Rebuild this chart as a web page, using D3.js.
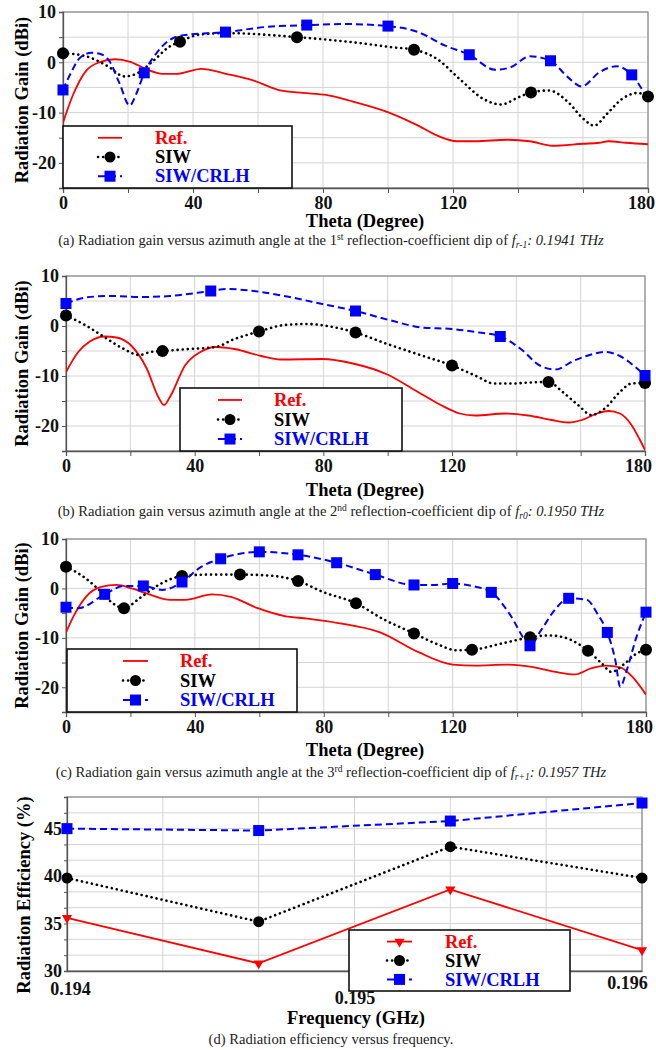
<!DOCTYPE html>
<html>
<head>
<meta charset="utf-8">
<script src="https://cdn.jsdelivr.net/npm/d3@7"></script>
<style>
body { margin: 0; background: #fff; }
svg { display: block; }
</style>
</head>
<body>
<svg width="656" height="1050"></svg>
<script>
const seriesNames = ["Ref.", "SIW", "SIW/CRLH"];
const thetaTicks = [0, 40, 80, 120, 180];
const gainTicks = [10, 0, -10, -20];

// (a) fr-1
const refA = [[0,-12],[3,-6.6],[7.1,-1.7],[11.2,0],[16,0.6],[20.7,0.1],[25.4,-1.3],[30.7,-2.3],[34.9,-2.3],[42.6,-1.3],[50.2,-2.3],[58.5,-3.6],[66.8,-5.6],[73.9,-6.1],[81,-6.5],[88,-7.6],[99.9,-9.9],[109.3,-12.6],[115.2,-14.6],[121.2,-15.7],[127,-15.7],[136.5,-15.4],[143.6,-15.7],[150.7,-16.6],[160,-16.2],[165,-16],[167.8,-15.7],[173.2,-16],[180,-16.3]];
const siwA = [[0,1.8],[6.5,1.3],[13.6,-0.7],[18.9,-2.8],[22.5,-2.3],[27.8,0.3],[32.5,3],[36,4.1],[42,5.5],[50.2,5.8],[72,5],[91.6,3.8],[101,3],[108,2.5],[115,0.7],[122,-3.3],[129.4,-7.3],[134.8,-8.4],[140,-7],[144,-6],[149.5,-5.6],[155.4,-7.9],[160.2,-11.3],[163.5,-12.6],[167.3,-10.3],[172,-7.3],[176.8,-6.1],[180,-6.8]];
const siwMarkA = [[0,1.8],[36,4.1],[72,5],[108,2.5],[144,-6],[180,-6.8]];
const crlhA = [[0,-5.5],[2.6,-1.9],[5.1,0.8],[8.7,1.9],[11.3,1.7],[14.4,0.1],[17.4,-4.2],[20.5,-8.6],[22.6,-6.2],[25,-2.1],[29,2],[32.5,4.3],[37.2,5.4],[50,6],[62,7],[75,7.4],[86.9,7.6],[100,7.2],[109.3,6],[117.6,3.3],[125,1.5],[133,-1.5],[137.7,-1],[143.6,1.2],[150,0.3],[155.4,-3],[159.6,-4.8],[165,-2],[170.3,-0.8],[175,-2.5],[180,-7.5]];
const crlhMarkA = [[0,-5.5],[25,-2.1],[50,6],[75,7.4],[100,7.2],[125,1.5],[150,0.3],[175,-2.5]];

// (b) fr0
const refB = [[0,-9.2],[3.8,-5.2],[7.4,-3.1],[12.1,-2.1],[15.7,-2.3],[20.4,-4],[25.1,-8.5],[28.7,-14.2],[30.5,-15.8],[32.3,-14.2],[37,-7.9],[41.8,-5.2],[46.5,-4.2],[52.4,-4.6],[60.7,-6],[66.7,-6.7],[79.7,-6.6],[89.2,-7.5],[99.9,-9.7],[109.4,-13.2],[116.5,-15.8],[122.4,-17.5],[127.2,-17.9],[136.7,-17.5],[143.8,-17.9],[150.9,-18.8],[156.2,-19.3],[160.4,-18.8],[165.1,-17.5],[168.7,-17],[172.2,-17.5],[175.8,-19.8],[178.2,-22.5],[180,-24.8]];
const siwB = [[0,2.1],[6.2,0.1],[12.1,-2.3],[18,-4.6],[22.8,-5.8],[26.3,-5.2],[30,-5],[38.2,-4.6],[46.5,-4.2],[52.4,-2.6],[60,-1.1],[67.9,0.2],[75,0.4],[82.1,-0.1],[90,-1.3],[99.9,-3.6],[110.6,-5.9],[120,-7.9],[127.2,-9.9],[133.1,-11.5],[139,-11.5],[144,-11.3],[150,-11.2],[154.4,-13.2],[159.2,-15.8],[163.3,-17.8],[167.5,-16.5],[172.2,-13.2],[175.8,-11.5],[180,-11.4]];
const siwMarkB = [[0,2.1],[30,-5],[60,-1.1],[90,-1.3],[120,-7.9],[150,-11.2],[180,-11.4]];
const crlhB = [[0,4.5],[6.2,5.7],[13.3,6],[24,5.8],[32.3,6],[45,7],[50,7.4],[59.5,6.9],[70.2,5.7],[79.7,4.4],[90,3],[101,1.1],[110.6,-0.3],[120,-0.6],[128.4,-1.3],[135,-2.1],[141.4,-4.6],[147.3,-7.9],[152.1,-8.7],[158,-6.9],[163.9,-5.6],[167.5,-5.2],[172.2,-6],[177,-8.2],[180,-9.9]];
const crlhMarkB = [[0,4.5],[45,7],[90,3],[135,-2.1],[180,-9.9]];

// (c) fr+1
const refC = [[0,-8.9],[2.6,-5.3],[6.2,-1.7],[10.9,0.3],[15.7,0.7],[20.4,0],[26.3,-1.3],[32.3,-2.3],[37,-2.3],[45.3,-1.2],[51.2,-1.7],[59.5,-4],[67.9,-5.6],[75,-6.1],[84.5,-7],[97.5,-8.9],[109.4,-12.9],[120,-15.4],[127.2,-15.6],[136.7,-15.4],[145,-15.9],[152,-16.9],[158,-17.4],[162.8,-16.2],[167.5,-15.6],[172.2,-16],[175.8,-17.9],[180,-21.5]];
const siwC = [[0,4.4],[6.2,2],[10.9,-0.7],[14.5,-3],[18,-4],[22.8,-2],[28.7,0.7],[36,2.5],[44.1,2.8],[54,2.8],[63.1,2.6],[72,1.5],[79.7,-0.7],[90,-3],[98.7,-6.3],[108,-9.1],[115.3,-11.3],[121.2,-12.5],[126,-12.4],[135.5,-11.1],[144,-9.9],[149.7,-9.5],[154.5,-9.9],[159.2,-11.3],[162,-12.6],[166.3,-15.2],[169.3,-16.9],[173.4,-15.2],[177,-13.2],[180,-12.4]];
const siwMarkC = [[0,4.4],[18,-4],[36,2.5],[54,2.8],[72,1.5],[90,-3],[108,-9.1],[126,-12.4],[144,-9.9],[162,-12.6],[180,-12.4]];
const crlhC = [[0,-3.8],[3.8,-4],[12,-1.2],[18,0.5],[24,0.5],[29.9,-0.3],[36,1.3],[41.8,4.3],[48,6],[60,7.4],[72,6.8],[84,5.2],[96,2.8],[108,0.7],[114.1,0.7],[120,1],[126,0.5],[132,-0.8],[137.8,-5.3],[142.6,-10.6],[144,-11.6],[147.3,-8.6],[152.1,-4],[156,-2],[161.6,-2.3],[165.1,-5.3],[168,-8.9],[170.5,-14.6],[172,-19.9],[174,-16.6],[177,-9.9],[180,-4.8]];
const crlhMarkC = [[0,-3.8],[12,-1.2],[24,0.5],[36,1.3],[48,6],[60,7.4],[72,6.8],[84,5.2],[96,2.8],[108,0.7],[120,1],[132,-0.8],[144,-11.6],[156,-2],[168,-8.9],[180,-4.8]];

// (d) efficiency
const freqs = [0.194, 0.1946667, 0.1953333, 0.196];
const effRef = [35.6, 30.8, 38.6, 32.2];
const effSiw = [39.8, 35.2, 43.1, 39.8];
const effCrlh = [45.0, 44.8, 45.8, 47.7];
const freqTicks = [0.194, 0.195, 0.196];
const effTicks = [30, 35, 40, 45];

const serif = "Liberation Serif, Times New Roman, serif";
const RED = "#ff0000", BLUE = "#0000ff";
const svg = d3.select("svg");

function frame(g, x, y, xGrid, yGrid) {
    const [l, r] = x.range(), [b, t] = y.range();
    g.append("g").selectAll("line").data(xGrid).enter().append("line")
        .attr("x1", d => x(d)).attr("x2", d => x(d)).attr("y1", t).attr("y2", b)
        .attr("stroke", "#d4d4d4").attr("stroke-width", 1);
    g.append("g").selectAll("line").data(yGrid).enter().append("line")
        .attr("x1", l).attr("x2", r).attr("y1", d => y(d)).attr("y2", d => y(d))
        .attr("stroke", "#d4d4d4").attr("stroke-width", 1);
    g.append("rect").attr("x", l).attr("y", t).attr("width", r - l).attr("height", b - t)
        .attr("fill", "none").attr("stroke", "#8a8a8a").attr("stroke-width", 1.2);
}

function styleAxis(ax) {
    ax.select(".domain").attr("stroke", "#555").attr("stroke-width", 1.3);
    ax.selectAll(".tick line").attr("stroke", "#555");
    ax.selectAll("text").style("font-family", serif).attr("font-weight", "bold")
        .attr("font-size", 18).attr("fill", "#111");
}

function drawLine(g, pts, x, y, kind, curve) {
    const line = d3.line().x(d => x(d[0])).y(d => y(d[1])).curve(curve);
    const p = g.append("path").datum(pts).attr("d", line).attr("fill", "none");
    if (kind == 0) p.attr("stroke", RED).attr("stroke-width", 1.8);
    if (kind == 1) p.attr("stroke", "#000").attr("stroke-width", 2.6)
        .attr("stroke-dasharray", "0.1 5").attr("stroke-linecap", "round");
    if (kind == 2) p.attr("stroke", BLUE).attr("stroke-width", 2)
        .attr("stroke-dasharray", "7 4");
}

function drawMarks(g, pts, x, y, kind, size) {
    if (kind == 1) {
        g.append("g").selectAll("circle").data(pts).enter().append("circle")
            .attr("cx", d => x(d[0])).attr("cy", d => y(d[1])).attr("r", size / 2).attr("fill", "#000");
    } else if (kind == 2) {
        g.append("g").selectAll("rect").data(pts).enter().append("rect")
            .attr("x", d => x(d[0]) - size / 2).attr("y", d => y(d[1]) - size / 2)
            .attr("width", size).attr("height", size).attr("fill", BLUE);
    } else {
        g.append("g").selectAll("path").data(pts).enter().append("path")
            .attr("d", d3.symbol(d3.symbolTriangle, size * 5))
            .attr("transform", d => `translate(${x(d[0])},${y(d[1])}) rotate(180)`)
            .attr("fill", RED);
    }
}

function legend(g, box, withTri) {
    g.append("rect").attr("x", box.x).attr("y", box.y).attr("width", box.w).attr("height", box.h)
        .attr("fill", "#fff").attr("stroke", "#111").attr("stroke-width", 1.6);
    const colors = [RED, "#000", BLUE];
    seriesNames.forEach((name, i) => {
        const cy = box.y + box.h * (0.19 + 0.31 * i);
        const sx = d3.scaleLinear().domain([0, 1]).range([box.x + box.s0, box.x + box.s1]);
        const sy = v => cy;
        drawLine(g, [[0, 0], [1, 0]], sx, sy, i, d3.curveLinear);
        if (i > 0) drawMarks(g, [[0.5, 0]], sx, sy, i, 11);
        else if (withTri) drawMarks(g, [[0.5, 0]], sx, sy, 0, 9);
        g.append("text").attr("x", box.x + box.t).attr("y", cy).attr("dy", "0.33em")
            .style("font-family", serif).attr("font-weight", "bold").attr("font-size", 18.5)
            .attr("fill", colors[i]).text(name);
    });
}

function caption(parts, cx, cy) {
    const t = svg.append("text").attr("x", cx).attr("y", cy).attr("text-anchor", "middle")
        .style("font-family", serif).attr("font-size", 14.6).attr("fill", "#222");
    let shift = 0;
    parts.forEach(p => {
        const want = p.sup ? -5 : p.sub ? 3 : 0;
        const ts = t.append("tspan").attr("dy", want - shift).text(p.t);
        shift = want;
        if (p.sup || p.sub) ts.attr("font-size", 9.5);
        if (p.it) ts.attr("font-style", "italic");
    });
}

function gainPanel(p) {
    const g = svg.append("g");
    const x = d3.scaleLinear().domain([0, 180]).range([p.l, p.r]);
    const y = d3.scaleLinear().domain([-25, 10]).range([p.b, p.t]);
    frame(g, x, y, d3.range(0, 181, 20), d3.range(-25, 11, 5));

    const ax = g.append("g").attr("transform", `translate(0,${p.b})`)
        .call(d3.axisBottom(x).tickValues(d3.range(0, 181, 20)).tickSize(5).tickPadding(3)
            .tickFormat(d => thetaTicks.includes(d) ? d : ""));
    styleAxis(ax);
    ax.selectAll(".tick text").attr("dx", d => d == 180 ? -7 : 0);
    const ay = g.append("g").attr("transform", `translate(${p.l},0)`)
        .call(d3.axisLeft(y).tickValues(d3.range(-25, 11, 5)).tickSize(4).tickPadding(3)
            .tickFormat(d => gainTicks.includes(d) ? d : ""));
    styleAxis(ay);

    const clipId = "clip" + p.id;
    g.append("clipPath").attr("id", clipId).append("rect")
        .attr("x", p.l).attr("y", p.t - 8).attr("width", p.r - p.l).attr("height", p.b - p.t + 8);
    const c = g.append("g").attr("clip-path", `url(#${clipId})`);
    drawLine(c, p.ref, x, y, 0, d3.curveMonotoneX);
    drawLine(c, p.siw, x, y, 1, d3.curveMonotoneX);
    drawLine(c, p.crlh, x, y, 2, d3.curveMonotoneX);
    drawMarks(g, p.siwMarks, x, y, 1, 12);
    drawMarks(g, p.crlhMarks, x, y, 2, 11);

    legend(g, p.legend, false);

    g.append("text").attr("x", 365).attr("y", p.xTitleY).attr("text-anchor", "middle")
        .style("font-family", serif).attr("font-weight", "bold").attr("font-size", 18.5)
        .text("Theta (Degree)");
    g.append("text").attr("transform", `translate(28,${(p.t + p.b) / 2}) rotate(-90)`)
        .attr("text-anchor", "middle").style("font-family", serif).attr("font-weight", "bold")
        .attr("font-size", 18.5).text("Radiation Gain (dBi)");
    caption(p.caption, 331, p.capY);
}

gainPanel({
    id: "a", l: 63, r: 648, t: 12, b: 188,
    ref: refA, siw: siwA, siwMarks: siwMarkA, crlh: crlhA, crlhMarks: crlhMarkA,
    legend: { x: 63, y: 126, w: 229, h: 62, s0: 35, s1: 59, t: 92 },
    xTitleY: 227, capY: 245,
    caption: [{ t: "(a) Radiation gain versus azimuth angle at the 1" }, { t: "st", sup: true },
        { t: " reflection-coefficient dip of " }, { t: "f", it: true }, { t: "r-1", it: true, sub: true },
        { t: ": 0.1941 THz", it: true }]
});
gainPanel({
    id: "b", l: 66, r: 645, t: 276, b: 451,
    ref: refB, siw: siwB, siwMarks: siwMarkB, crlh: crlhB, crlhMarks: crlhMarkB,
    legend: { x: 180, y: 388, w: 222, h: 63, s0: 38, s1: 62, t: 94 },
    xTitleY: 496, capY: 516,
    caption: [{ t: "(b) Radiation gain versus azimuth angle at the 2" }, { t: "nd", sup: true },
        { t: " reflection-coefficient dip of " }, { t: "f", it: true }, { t: "r0", it: true, sub: true },
        { t: ": 0.1950 THz", it: true }]
});
gainPanel({
    id: "c", l: 66, r: 646, t: 539, b: 712,
    ref: refC, siw: siwC, siwMarks: siwMarkC, crlh: crlhC, crlhMarks: crlhMarkC,
    legend: { x: 67, y: 649, w: 230, h: 63, s0: 56, s1: 81, t: 113 },
    xTitleY: 756, capY: 777,
    caption: [{ t: "(c) Radiation gain versus azimuth angle at the 3" }, { t: "rd", sup: true },
        { t: " reflection-coefficient dip of " }, { t: "f", it: true }, { t: "r+1", it: true, sub: true },
        { t: ": 0.1957 THz", it: true }]
});

// (d) radiation efficiency
{
    const g = svg.append("g");
    const l = 67, r = 642, t = 797, b = 971;
    const x = d3.scaleLinear().domain([0.194, 0.196]).range([l, r]);
    const y = d3.scaleLinear().domain([30, 30 + 11 * 5 / 3]).range([b, t]);
    const xGrid = d3.range(7).map(i => 0.194 + i * 0.002 / 6);
    const yGrid = d3.range(12).map(i => 30 + i * 5 / 3);
    frame(g, x, y, xGrid, yGrid);

    const ax = g.append("g").attr("transform", `translate(0,${b})`)
        .call(d3.axisBottom(x).tickValues(freqTicks).tickSize(0).tickPadding(0)
            .tickFormat(d3.format(".3f")));
    styleAxis(ax);
    ax.selectAll(".tick text").attr("dy", null)
        .attr("y", (d, i) => [24, 33, 18][i])
        .attr("dx", (d, i) => [3, 0, -15][i]);
    const ay = g.append("g").attr("transform", `translate(${l},0)`)
        .call(d3.axisLeft(y).tickValues(yGrid).tickSize(3).tickPadding(2)
            .tickFormat(d => effTicks.some(v => Math.abs(v - d) < 1e-6) ? d3.format(".0f")(d) : ""));
    styleAxis(ay);

    const rows = [effRef, effSiw, effCrlh].map(vals => vals.map((v, i) => [freqs[i], v]));
    rows.forEach((pts, k) => drawLine(g, pts, x, y, k, d3.curveLinear));
    drawMarks(g, rows[0], x, y, 0, 9);
    drawMarks(g, rows[1], x, y, 1, 11);
    drawMarks(g, rows[2], x, y, 2, 11);

    legend(g, { x: 349, y: 930, w: 221, h: 61, s0: 38, s1: 63, t: 96 }, true);

    g.append("text").attr("x", 356).attr("y", 1024).attr("text-anchor", "middle")
        .style("font-family", serif).attr("font-weight", "bold").attr("font-size", 18.5)
        .text("Frequency (GHz)");
    g.append("text").attr("transform", `translate(30,${895}) rotate(-90)`)
        .attr("text-anchor", "middle").style("font-family", serif).attr("font-weight", "bold")
        .attr("font-size", 18.5).text("Radiation Efficiency (%)");
    caption([{ t: "(d) Radiation efficiency versus frequency." }], 331, 1044);
}
</script>
</body>
</html>
